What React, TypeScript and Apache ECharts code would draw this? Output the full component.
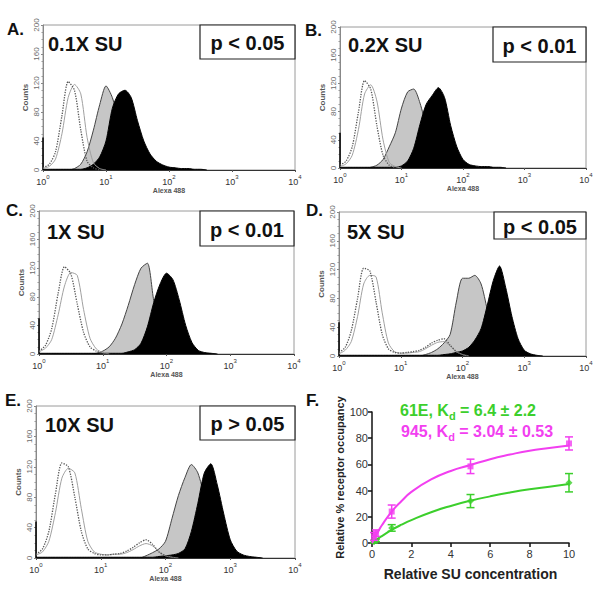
import React, { useEffect, useRef } from "react";
import * as echarts from "echarts";

// fluorescence bin centres (log spacing of 0.1 decade, 10^0 .. 10^4)
const BINS = [1, 1.26, 1.58, 2, 2.51, 3.16, 3.98, 5.01, 6.31, 7.94, 10, 12.6, 15.8, 20, 25.1, 31.6, 39.8, 50.1, 63.1, 79.4, 100, 126, 158, 200, 251, 316, 398, 501, 631, 794, 1000, 1259, 1585, 1995, 2512, 3162, 3981, 5012, 6310, 7943, 10000];

// Panel A (0.1X SU)
const A_DOT = [3, 8, 25, 75, 122, 110, 55, 12, 3, 0];
const A_THIN = [2, 5, 15, 50, 100, 118, 105, 45, 10, 2, 0];
const A_GRAY = [0, 0, 0, 0, 0, 2, 8, 25, 55, 90, 116, 100, 70, 40, 18, 7, 3, 1, 0];
const A_BLACK = [1, 1, 1, 1, 1, 1, 1, 3, 8, 18, 40, 85, 105, 110, 100, 68, 40, 22, 12, 7, 4, 3, 2, 2, 1, 1, 0];
// Panel B (0.2X SU)
const B_DOT = [4, 10, 30, 80, 124, 112, 60, 18, 4, 0];
const B_THIN = [2, 6, 18, 55, 105, 118, 95, 40, 8, 2, 0];
const B_GRAY = [0, 0, 0, 0, 0, 1, 4, 12, 30, 50, 85, 108, 112, 92, 60, 30, 12, 4, 1, 0];
const B_BLACK = [1, 1, 1, 1, 1, 1, 1, 1, 1, 1, 3, 10, 28, 62, 90, 103, 114, 100, 60, 30, 12, 5, 3, 2, 2, 1, 1, 0];
// Panel C (1X SU)
const C_DOT = [4, 12, 35, 85, 122, 112, 70, 30, 10, 4, 1, 0];
const C_THIN = [3, 8, 20, 55, 95, 114, 110, 62, 22, 7, 2, 0];
const C_GRAY = [0, 0, 0, 0, 0, 0, 0, 0, 0, 1, 4, 10, 22, 42, 68, 97, 120, 127, 75, 40, 15, 5, 2, 0];
const C_BLACK = [1, 1, 1, 1, 1, 1, 1, 1, 1, 1, 1, 1, 1, 1, 3, 6, 15, 38, 72, 98, 113, 104, 76, 40, 16, 5, 2, 1, 0];
// Panel D (5X SU)
const D_DOT = [5, 12, 35, 80, 122, 118, 75, 30, 10, 5, 4, 5, 6, 8, 12, 18, 22, 24, 15, 6, 2, 0];
const D_THIN = [3, 8, 20, 55, 100, 112, 110, 60, 18, 6, 4, 4, 5, 6, 10, 15, 19, 20, 14, 6, 2, 0];
const D_GRAY = [0, 0, 0, 0, 0, 0, 0, 0, 0, 0, 0, 0, 0, 0, 2, 5, 10, 18, 30, 75, 108, 108, 112, 100, 65, 30, 12, 4, 1, 0];
const D_BLACK = [1, 1, 1, 1, 1, 1, 1, 1, 1, 1, 1, 1, 1, 1, 1, 1, 1, 2, 3, 5, 7, 12, 22, 38, 70, 105, 125, 95, 55, 24, 8, 3, 1, 0];
// Panel E (10X SU)
const E_DOT = [5, 12, 35, 85, 125, 120, 80, 35, 12, 6, 4, 4, 5, 6, 9, 14, 20, 24, 18, 8, 3, 1, 0];
const E_THIN = [4, 8, 22, 60, 105, 118, 112, 65, 22, 8, 5, 4, 5, 5, 7, 11, 16, 19, 16, 8, 3, 1, 0];
const E_GRAY = [0, 0, 0, 0, 0, 0, 0, 0, 0, 0, 0, 0, 0, 0, 0, 0, 0, 3, 7, 12, 22, 52, 82, 106, 123, 112, 80, 35, 14, 5, 2, 0];
const E_BLACK = [1, 1, 1, 1, 1, 1, 1, 1, 1, 1, 1, 1, 1, 1, 1, 1, 1, 1, 1, 2, 3, 4, 6, 12, 35, 72, 112, 124, 96, 58, 24, 9, 4, 2, 1, 0];

const SPIKES = [45, 50, 50, 47, 48];
const SU_LABELS = ["0.1X SU", "0.2X SU", "1X SU", "5X SU", "10X SU"];
const P_LABELS = ["p < 0.05", "p < 0.01", "p < 0.01", "p < 0.05", "p > 0.05"];
const LETTERS = ["A.", "B.", "C.", "D.", "E.", "F."];

// Panel F: receptor occupancy
const X_945 = [0.1, 0.2, 1, 5, 10];
const Y_945 = [5, 7.5, 24, 58.5, 76];
const ERR_945 = [3, 2.5, 5, 5.5, 5];
const X_61E = [0.1, 0.2, 1, 5, 10];
const Y_61E = [1, 2, 11.5, 32, 46];
const ERR_61E = [1, 1, 2.5, 5, 7];
const FIT_X = [0, 0.25, 0.5, 1, 1.5, 2, 3, 4, 5, 6, 7, 8, 9, 10];
const FIT_945 = [0, 7, 13.5, 24, 32, 39, 48.5, 55, 59.5, 64, 67.5, 70.5, 72.5, 74.5];
const FIT_61E = [0, 2.8, 5.3, 10, 14, 17.5, 23.5, 28.3, 32.3, 35.6, 38.5, 41, 43, 45];

const HIST = [
  [A_DOT, A_THIN, A_GRAY, A_BLACK],
  [B_DOT, B_THIN, B_GRAY, B_BLACK],
  [C_DOT, C_THIN, C_GRAY, C_BLACK],
  [D_DOT, D_THIN, D_GRAY, D_BLACK],
  [E_DOT, E_THIN, E_GRAY, E_BLACK],
];

const FONT = '"Liberation Sans", Arial, Helvetica, sans-serif';
const GREEN = "#3ccf2c";
const MAGENTA = "#f23ff0";

const GRIDS = [
  { left: 43, top: 25, width: 252, height: 145 },
  { left: 340, top: 27, width: 246, height: 141 },
  { left: 39, top: 211, width: 255, height: 143 },
  { left: 339, top: 212, width: 247, height: 144 },
  { left: 36, top: 406, width: 259, height: 152 },
];
const FGRID = { left: 372, top: 412, width: 197, height: 131 };
const BOXES = [
  { x: 200, y: 25, w: 95, h: 34 },
  { x: 493, y: 27, w: 93, h: 35 },
  { x: 200, y: 211, w: 94, h: 35 },
  { x: 494, y: 212, w: 92, h: 27 },
  { x: 200, y: 406, w: 95, h: 34 },
];
const SU_POS = [
  { x: 48, y: 44 },
  { x: 348, y: 45 },
  { x: 47, y: 232 },
  { x: 347, y: 232 },
  { x: 45, y: 425 },
];
const LETTER_POS = [
  { x: 7, y: 29 },
  { x: 305, y: 30 },
  { x: 6, y: 210 },
  { x: 306, y: 210 },
  { x: 5, y: 400 },
  { x: 306, y: 400 },
];

function toXY(arr: number[]) {
  return arr.map((v, i) => [BINS[i], v]);
}

function buildOption() {
  const grid: any[] = [];
  const xAxis: any[] = [];
  const yAxis: any[] = [];
  const series: any[] = [];
  const graphic: any[] = [];

  HIST.forEach((h, i) => {
    grid.push({ ...GRIDS[i], show: true, borderColor: "#9a9a9a", borderWidth: 1, backgroundColor: "transparent" });
    xAxis.push({
      gridIndex: i,
      type: "log",
      logBase: 10,
      min: 1,
      max: 10000,
      axisLine: { show: true, lineStyle: { color: "#333", width: 1 } },
      axisTick: { show: true, length: 2, lineStyle: { color: "#555" } },
      splitLine: { show: false },
      axisLabel: {
        margin: 4,
        formatter: (v: number) => `{b|10}{s|${Math.round(Math.log10(v))}}`,
        rich: {
          b: { fontSize: 9, fontFamily: FONT, color: "#333", lineHeight: 12, verticalAlign: "bottom" },
          s: { fontSize: 6, fontFamily: FONT, color: "#333", lineHeight: 12, verticalAlign: "top" },
        },
      },
      name: "Alexa 488",
      nameLocation: "middle",
      nameGap: 15,
      nameTextStyle: { fontSize: 7, fontWeight: "bold", color: "#555", fontFamily: FONT },
    });
    yAxis.push({
      gridIndex: i,
      type: "value",
      min: 0,
      max: 200,
      interval: 40,
      axisLine: { show: true, lineStyle: { color: "#888", width: 1 } },
      axisTick: { show: true, length: 2, lineStyle: { color: "#888" } },
      minorTick: { show: true, splitNumber: 4, length: 1.5, lineStyle: { color: "#999" } },
      splitLine: { show: false },
      axisLabel: { rotate: 90, fontSize: 8, color: "#6a6a6a", margin: 3, fontFamily: FONT, showMinLabel: true, showMaxLabel: true },
      name: "Counts",
      nameLocation: "middle",
      nameRotate: 90,
      nameGap: 14,
      nameTextStyle: { fontSize: 8, fontWeight: "bold", color: "#555", fontFamily: FONT },
    });
    const [dot, thin, gray, black] = h;
    series.push({
      type: "line", xAxisIndex: i, yAxisIndex: i, data: toXY(gray), showSymbol: false, symbol: "none",
      lineStyle: { color: "#444", width: 1 }, areaStyle: { color: "#c6c6c6", opacity: 1 }, smooth: 0.25, z: 2,
    });
    series.push({
      type: "line", xAxisIndex: i, yAxisIndex: i, data: toXY(black), showSymbol: false, symbol: "none",
      lineStyle: { color: "#000", width: 1 }, areaStyle: { color: "#000", opacity: 1 }, smooth: 0.25, z: 3,
    });
    series.push({
      type: "line", xAxisIndex: i, yAxisIndex: i, data: [[1, 0], [1, SPIKES[i]]], showSymbol: false, symbol: "none",
      lineStyle: { color: "#000", width: 1.5 }, clip: false, z: 4,
    });
    series.push({
      type: "line", xAxisIndex: i, yAxisIndex: i, data: toXY(thin), showSymbol: false, symbol: "none",
      lineStyle: { color: "#a0a0a0", width: 1 }, smooth: 0.25, z: 5,
    });
    series.push({
      type: "line", xAxisIndex: i, yAxisIndex: i, data: toXY(dot), showSymbol: false, symbol: "none",
      lineStyle: { color: "#555", width: 1.3, type: "dotted" }, smooth: 0.25, z: 6,
    });

    const b = BOXES[i];
    graphic.push({ type: "rect", shape: { x: b.x, y: b.y, width: b.w, height: b.h }, style: { fill: "#fff", stroke: "#222", lineWidth: 1.2 }, z: 100 });
    graphic.push({
      type: "text", x: b.x + b.w / 2, y: b.y + b.h / 2 + 1, z: 101,
      style: { text: P_LABELS[i], font: `bold 20px ${FONT}`, fill: "#111", align: "center", verticalAlign: "middle" },
    });
    graphic.push({
      type: "text", x: SU_POS[i].x, y: SU_POS[i].y, z: 101,
      style: { text: SU_LABELS[i], font: `bold 20px ${FONT}`, fill: "#111", align: "left", verticalAlign: "middle" },
    });
  });

  LETTERS.forEach((l, i) => {
    graphic.push({
      type: "text", x: LETTER_POS[i].x, y: LETTER_POS[i].y, z: 101,
      style: { text: l, font: `bold 17px ${FONT}`, fill: "#111", align: "left", verticalAlign: "middle" },
    });
  });

  // Panel F
  const fi = 5;
  grid.push({ ...FGRID, show: false });
  xAxis.push({
    gridIndex: fi, type: "value", min: 0, max: 10, interval: 2,
    axisLine: { show: true, lineStyle: { color: "#111", width: 1.5 } },
    axisTick: { show: true, length: 4, lineStyle: { color: "#111", width: 1.5 } },
    splitLine: { show: false },
    axisLabel: { fontSize: 11, color: "#333", margin: 5, fontFamily: FONT },
    name: "Relative SU concentration", nameLocation: "middle", nameGap: 24,
    nameTextStyle: { fontSize: 14, fontWeight: "bold", color: "#222", fontFamily: FONT },
  });
  yAxis.push({
    gridIndex: fi, type: "value", min: 0, max: 100, interval: 20,
    axisLine: { show: true, lineStyle: { color: "#111", width: 1.5 } },
    axisTick: { show: true, length: 4, lineStyle: { color: "#111", width: 1.5 } },
    splitLine: { show: false },
    axisLabel: { fontSize: 11, color: "#333", margin: 4, fontFamily: FONT },
    name: "Relative % receptor occupancy", nameLocation: "middle", nameRotate: 90, nameGap: 26,
    nameTextStyle: { fontSize: 11, fontWeight: "bold", color: "#222", fontFamily: FONT },
  });

  const errBar = (color: string) => (params: any, api: any) => {
    const x = api.value(0);
    const p1 = api.coord([x, api.value(1)]);
    const p2 = api.coord([x, api.value(2)]);
    const w = 4;
    const st = { stroke: color, lineWidth: 1.5 };
    return {
      type: "group",
      children: [
        { type: "line", shape: { x1: p1[0], y1: p1[1], x2: p2[0], y2: p2[1] }, style: st },
        { type: "line", shape: { x1: p1[0] - w, y1: p1[1], x2: p1[0] + w, y2: p1[1] }, style: st },
        { type: "line", shape: { x1: p2[0] - w, y1: p2[1], x2: p2[0] + w, y2: p2[1] }, style: st },
      ],
    };
  };

  series.push({
    type: "line", xAxisIndex: fi, yAxisIndex: fi, data: FIT_X.map((x, k) => [x, FIT_61E[k]]),
    smooth: true, showSymbol: false, symbol: "none", lineStyle: { color: GREEN, width: 2 }, z: 10,
  });
  series.push({
    type: "custom", xAxisIndex: fi, yAxisIndex: fi, renderItem: errBar(GREEN),
    data: X_61E.map((x, k) => [x, Y_61E[k] - ERR_61E[k], Y_61E[k] + ERR_61E[k]]),
    encode: { x: 0, y: [1, 2] }, z: 11, clip: false,
  });
  series.push({
    type: "scatter", xAxisIndex: fi, yAxisIndex: fi, data: X_61E.map((x, k) => [x, Y_61E[k]]),
    symbol: "diamond", symbolSize: 7, itemStyle: { color: GREEN }, z: 12, clip: false,
  });
  series.push({
    type: "line", xAxisIndex: fi, yAxisIndex: fi, data: FIT_X.map((x, k) => [x, FIT_945[k]]),
    smooth: true, showSymbol: false, symbol: "none", lineStyle: { color: MAGENTA, width: 2 }, z: 13,
  });
  series.push({
    type: "custom", xAxisIndex: fi, yAxisIndex: fi, renderItem: errBar(MAGENTA),
    data: X_945.map((x, k) => [x, Y_945[k] - ERR_945[k], Y_945[k] + ERR_945[k]]),
    encode: { x: 0, y: [1, 2] }, z: 14, clip: false,
  });
  series.push({
    type: "scatter", xAxisIndex: fi, yAxisIndex: fi, data: X_945.map((x, k) => [x, Y_945[k]]),
    symbol: "rect", symbolSize: 6, itemStyle: { color: MAGENTA }, z: 15, clip: false,
  });

  const legendRich = (color: string) => ({
    n: { fontSize: 16, fontWeight: "bold", fontFamily: FONT, fill: color, color, lineHeight: 22, verticalAlign: "middle" },
    s: { fontSize: 11, fontWeight: "bold", fontFamily: FONT, fill: color, color, lineHeight: 22, verticalAlign: "bottom" },
  });
  graphic.push({
    type: "text", x: 400, y: 410, z: 101,
    style: { text: "{n|61E, K}{s|d}{n| = 6.4 ± 2.2}", rich: legendRich(GREEN), fill: GREEN, verticalAlign: "middle", align: "left" },
  });
  graphic.push({
    type: "text", x: 401, y: 431, z: 101,
    style: { text: "{n|945, K}{s|d}{n| = 3.04 ± 0.53}", rich: legendRich(MAGENTA), fill: MAGENTA, verticalAlign: "middle", align: "left" },
  });

  return {
    animation: false,
    backgroundColor: "#fff",
    textStyle: { fontFamily: FONT },
    grid,
    xAxis,
    yAxis,
    series,
    graphic,
  };
}

export default function App() {
  const ref = useRef<HTMLDivElement>(null);
  useEffect(() => {
    if (!ref.current) return;
    const chart = echarts.init(ref.current, null, { renderer: "svg" });
    chart.setOption(buildOption() as any);
    return () => chart.dispose();
  }, []);
  return <div ref={ref} style={{ position: "fixed", left: 0, top: 0, width: 600, height: 594, background: "#fff" }} />;
}
